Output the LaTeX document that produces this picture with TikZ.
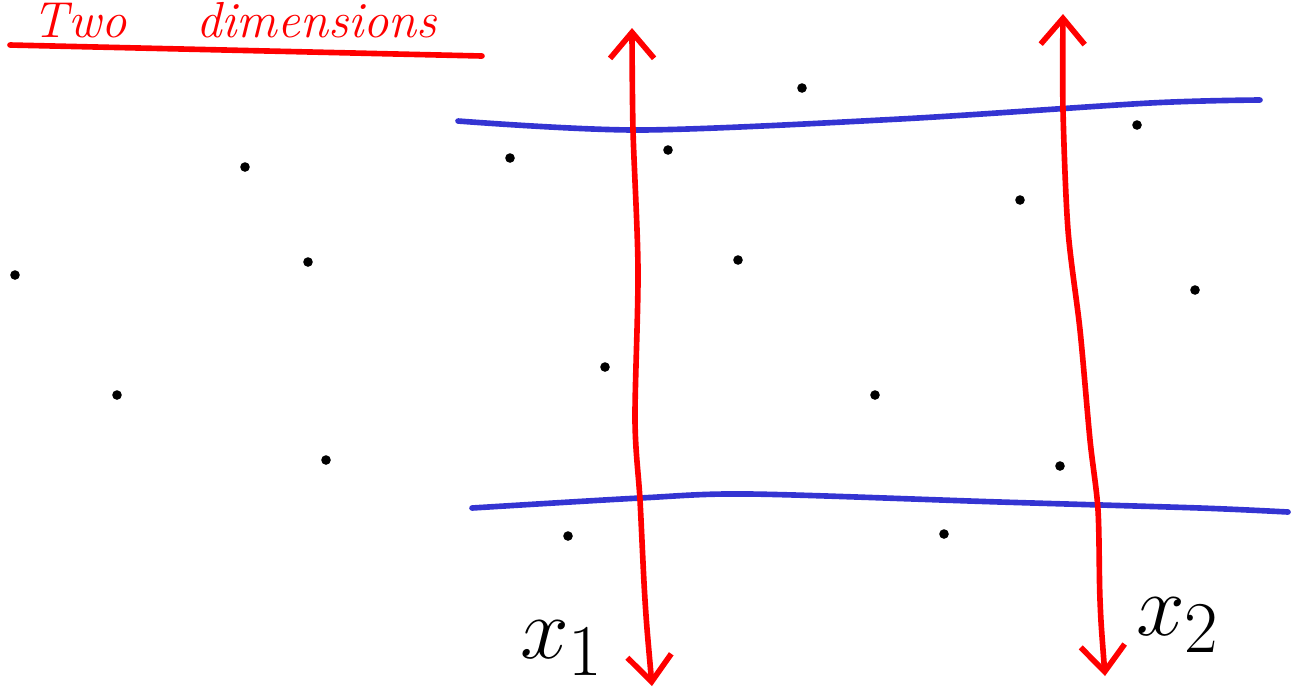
\documentclass[tikz,border=0pt]{standalone}
\usepackage{amsmath}
\usetikzlibrary{arrows.meta,positioning}
\definecolor{penred}{RGB}{255,0,0}
\definecolor{penblue}{RGB}{52,52,210}
\tikzset{
    axis/.style={draw=penred, line width=1.6pt, line cap=round, {Straight Barb[length=2.6mm,width=4.4mm]}-{Straight Barb[length=2.6mm,width=4.4mm]}},
    cut/.style={draw=penblue, line width=1.6pt, line cap=round},
    pt/.style={fill=black},
    lbl/.style={inner sep=0pt, font=\Huge}
}
\begin{document}
\begin{tikzpicture}[x={(0.01cm,0)}, y={(0,-0.01cm)}]
    \useasboundingbox (0,0) rectangle (1294,690);
    % title
    \node[penred, anchor=base west, inner sep=0pt, font=\Large\itshape] (title) at (32,37) {Two\hspace{0.7cm}dimensions};
    \draw[penred, line width=1.6pt, line cap=round] (10,45) -- (482,56);

    % points
    \foreach \px/\py in {245/167, 15/275, 308/262, 117/395, 326/460, 510/158, 668/150,
                         802/88, 1137/125, 1020/200, 738/260, 1195/290, 605/367,
                         875/395, 1060/466, 568/536, 944/534}
        \fill[pt] (\px,\py) circle (4.8);

    % blue cuts
    \draw[cut] plot[smooth] coordinates {(458,121) (640,130) (900,119) (1150,103) (1260,100)};
    \draw[cut] plot[smooth] coordinates {(472,508) (640,498) (750,494) (1000,502) (1200,508) (1288,512)};

    % red axes
    \draw[axis] plot[smooth] coordinates {(652,686) (645,600) (640,500) (635,420) (638,270) (633,130) (632,28)};
    \draw[axis] plot[smooth] coordinates {(1105,676) (1100,600) (1098,510) (1090,440) (1080,330) (1068,230) (1063,110) (1063,14)};

    % labels
    \node[lbl] (xone) at (562,648) {$x_1$};
    \node[lbl] (xtwo) at (1178,625) {$x_2$};
\end{tikzpicture}
\end{document}
